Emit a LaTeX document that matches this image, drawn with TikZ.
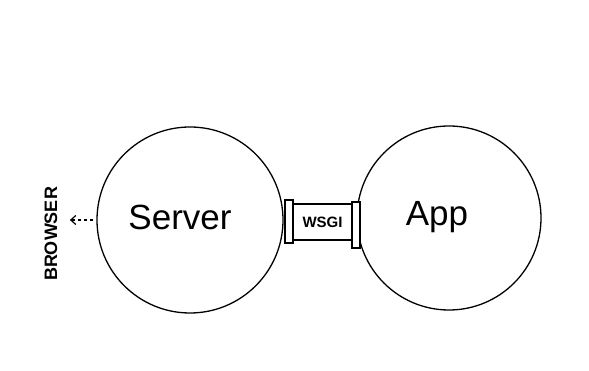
\documentclass[tikz,border=0pt]{standalone}
\usepackage{fontspec}
\setmainfont{Liberation Sans}
\usepackage{tikz}
\usetikzlibrary{arrows.meta,positioning}

\begin{document}
\begin{tikzpicture}[
  x=1pt,y=1pt,
  bubble/.style={draw=black,circle,line width=1.3pt,fill=white,inner sep=0pt},
  tab/.style={draw=black,line width=1.2pt,fill=white,minimum width=8pt,inner sep=0pt},
  band/.style={draw=black,line width=1.2pt,fill=white,minimum width=59pt,
               minimum height=36pt,inner sep=0pt,font=\fontsize{15}{15}\selectfont\bfseries},
  hint/.style={-{Straight Barb[length=5pt,width=9pt,line width=1.2pt]},line width=1.4pt,
               dash pattern=on 3pt off 3pt}]
  \useasboundingbox (0,0) rectangle (589,371);
  % the two parts
  \node[band] (wsgi) at (322.5,149) {WSGI};
  \node[bubble,minimum size=186pt] (server) at (190,151) {};
  \node[bubble,minimum size=184pt] (app) at (449,153) {};
  \node[font=\fontsize{35}{35}\selectfont] (servertxt) at (180,154) {Server};
  \node[font=\fontsize{35}{35}\selectfont] (apptxt) at (437,154) {App};
  % plugs on either side of the band
  \node[tab,minimum height=43pt] (ltab) at (289,149.5) {};
  \node[tab,minimum height=46pt] (rtab) at (356,146) {};
  % client side
  \node[rotate=90,font=\fontsize{18}{18}\selectfont\bfseries] (browser) at (51,137) {BROWSER};
  \draw[hint,shorten >=9pt] ([xshift=-3pt]server.west) -- (browser.south |- server.west);
\end{tikzpicture}
\end{document}
